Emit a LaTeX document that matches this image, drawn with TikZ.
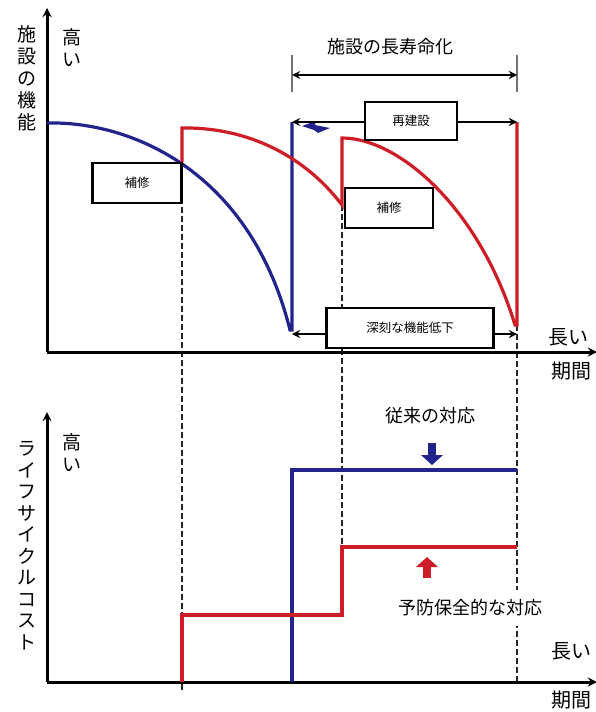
\documentclass[tikz,border=0pt]{standalone}
\usepackage{fontspec}
\setmainfont{Noto Sans CJK JP}
\definecolor{navy}{RGB}{35,35,140}
\definecolor{crimson}{RGB}{205,30,40}
\tikzset{
semithick, % default lines
>=stealth, % all arrows with stealth tip
axis/.style={line width=3pt,->,shorten >=-2pt},
guide/.style={draw=black!85,line width=2.8pt,dash pattern=on 6pt off 3pt},
cost old/.style={draw=navy,line width=3.2pt},
cost new/.style={draw=crimson,line width=3.2pt},
span/.style={<->,line width=2.6pt},
tick/.style={draw=black!55,line width=1.8pt},
labelbox/.style={draw,line width=2.4pt,fill=white,minimum width=88pt,minimum height=38pt,font=\fontsize{12.5}{14}\selectfont},
vlabel/.style={align=center,font=\fontsize{19}{22}\selectfont},
big/.style={font=\fontsize{18}{20}\selectfont},
}

\begin{document}
\begin{tikzpicture}[x=1pt,y=-1pt]
\useasboundingbox (0,0) rectangle (595,712);
% guide lines first
\draw[guide] (182,162) -- (182,690);
\draw[guide] (342,205) -- (342,547);
\draw[guide] (517,325) -- (517,682);
\draw[tick] (292,55) -- (292,92);
\draw[tick] (517,55) -- (517,92);

% upper chart: axes
\coordinate (o1) at (47,352);
\draw[axis] (o1) -- (47,10);
\draw[axis] (o1) -- (595,352);
\node[vlabel,anchor=north] (fn) at (27,22) {施\\設\\の\\機\\能};
\node[vlabel,anchor=north] (hi1) at (72,25) {高\\い};
\node[big,font=\fontsize{20}{22}\selectfont] (long1) at (568,337) {長い};
\node[big,font=\fontsize{20}{22}\selectfont] (per1) at (571,371) {期間};

% upper chart: conventional
\draw[cost old] (47,123) .. controls (130,121) and (250,170) .. (290,330) -- (292,330) -- (292,122);
\fill[navy] (302,126) -- (316,121) -- (315,125) -- (330,128) -- (318,133) -- (314,130) -- cycle;

% upper chart: preventive
\draw[cost new] (182,162) -- (182,128) .. controls (240,127) and (300,150) .. (342,205)
  -- (342,138) .. controls (400,138) and (480,210) .. (515,325) -- (517,325) -- (517,122);

% spans and boxes
\node[big] (life) at (390,47) {施設の長寿命化};
\coordinate (la) at (292,75);
\coordinate (lb) at (517,75);
\draw[span] (la) -- (lb);
\coordinate (ra) at (292,122);
\coordinate (rb) at (517,122);
\draw[span] (ra) -- (rb);
\node[labelbox,minimum width=92pt] (rebuild) at (411,121) {再建設};
\coordinate (da) at (292,334);
\coordinate (db) at (517,334);
\draw[span] (da) -- (db);
\node[labelbox,minimum width=167pt,minimum height=40pt] (severe) at (410,328) {深刻な機能低下};
\node[labelbox,minimum width=89pt,minimum height=40pt] (rep1) at (137,183) {補修};
\node[labelbox,minimum width=88pt,minimum height=40pt] (rep2) at (389,208) {補修};

% lower chart: axes
\coordinate (o2) at (47,682);
\draw[axis] (o2) -- (47,414);
\draw[axis] (o2) -- (595,682);
\node[vlabel,anchor=north,font=\fontsize{19}{21.5}\selectfont] (lcc) at (27,438) {ラ\\イ\\フ\\サ\\イ\\ク\\ル\\コ\\ス\\ト};
\node[vlabel,anchor=north] (hi2) at (72,430) {高\\い};
\node[big,font=\fontsize{20}{22}\selectfont,anchor=east] (long2) at (595,651) {長い};
\node[big,font=\fontsize{20}{22}\selectfont,anchor=east] (per2) at (595,700) {期間};

% lower chart: costs
\draw[cost old] (292,682) -- (292,470) -- (517,470);
\draw[cost new] (182,682) -- (182,615) -- (342,615) -- (342,547) -- (517,547);

% lower chart: labels
\node[big] (old) at (430,416) {従来の対応};
\fill[navy] (428,443) rectangle (436,455);
\fill[navy] (421,455) -- (443,455) -- (432,465) -- cycle;
\fill[crimson] (416,567) -- (438,567) -- (427,557) -- cycle;
\fill[crimson] (423,567) rectangle (431,578);
\node[big,fill=white,inner xsep=14pt,inner ysep=10pt] (prev) at (470,608) {予防保全的な対応};
\end{tikzpicture}
\end{document}
